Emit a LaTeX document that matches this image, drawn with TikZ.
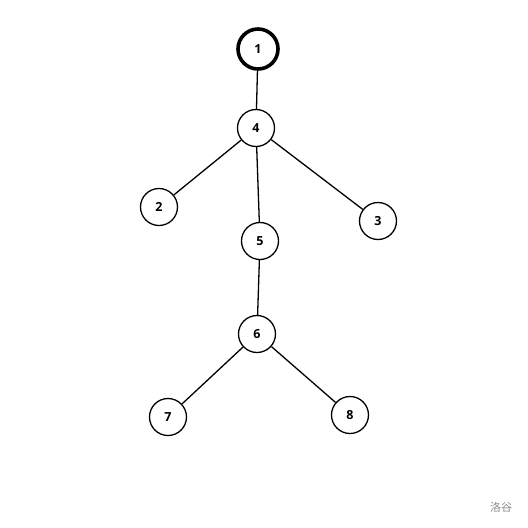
\documentclass[tikz,border=0pt]{standalone}
\usepackage{fontspec}
\setsansfont{Open Sans}
\newfontfamily\cjk{Noto Sans CJK SC}
\usepackage{tikz}
\usetikzlibrary{calc}

\tikzset{
    vert/.style={circle, draw, line width=1.3pt, minimum size=37pt, inner sep=0pt,
        font=\sffamily\bfseries\fontsize{12.5}{14}\selectfont},
    root/.style={vert, line width=3.6pt, minimum size=40pt}
}

\begin{document}
\begin{tikzpicture}[x=1pt, y=-1pt]
        \useasboundingbox (0,0) rectangle (528,528);
        \node[root] (n1) at (258,49) {1};
        \node[vert] (n4) at (256,128) {4};
        \node[vert] (n2) at (159,207) {2};
        \node[vert] (n3) at (378,221) {3};
        \node[vert] (n5) at (260,241) {5};
        \node[vert] (n6) at (257,334) {6};
        \node[vert] (n7) at (168,417) {7};
        \node[vert] (n8) at (350,415) {8};
        \foreach \a/\b in {n1/n4, n4/n2, n4/n3, n4/n5, n5/n6, n6/n7, n6/n8}
            \draw[line width=1.3pt] (\a) -- (\b);
        \node[text=black!45, font=\cjk\fontsize{11}{13}\selectfont] (logo) at (501,507) {洛谷};
    \end{tikzpicture}
\end{document}
